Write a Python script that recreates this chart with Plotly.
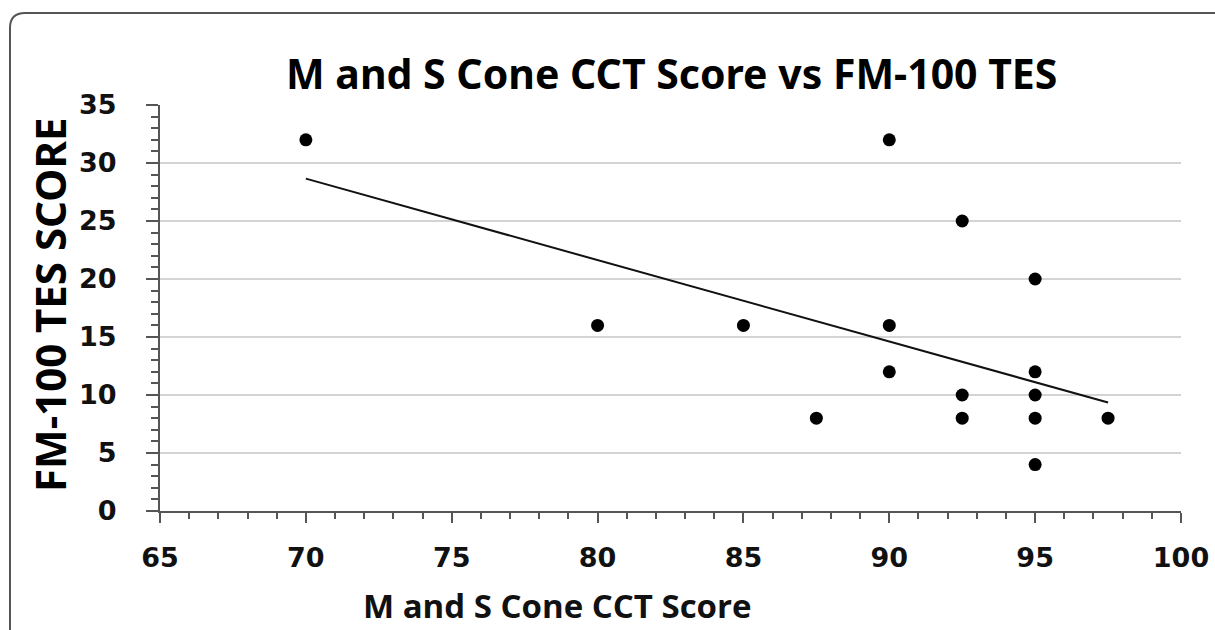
import plotly.graph_objects as go

# ---- data ----
cct_score = [70, 80, 85, 87.5, 90, 90, 90, 92.5, 92.5, 92.5, 95, 95, 95, 95, 95, 97.5]
tes_score = [32, 16, 16, 8, 32, 16, 12, 25, 10, 8, 20, 12, 10, 8, 4, 8]
trend_x = [70, 97.5]
trend_y = [28.65, 9.35]
x_ticks = [65, 70, 75, 80, 85, 90, 95, 100]
y_ticks = [0, 5, 10, 15, 20, 25, 30, 35]

W, H = 1215, 630
ML, MR, MT, MB = 160, 34, 105, 119
PW, PH = W - ML - MR, H - MT - MB


def px_x(p):
    return (p - ML) / PW


def px_y(p):
    return (H - MB - p) / PH


fig = go.Figure()
fig.add_trace(go.Scatter(x=trend_x, y=trend_y, mode="lines",
                         line=dict(color="#111111", width=2),
                         showlegend=False, hoverinfo="skip"))
fig.add_trace(go.Scatter(x=cct_score, y=tes_score, mode="markers",
                         marker=dict(color="#000000", size=13),
                         showlegend=False))

tick_font = dict(family="DejaVu Sans", size=27, color="#111111", weight="bold")

fig.update_xaxes(range=[65, 100], tickvals=x_ticks, ticktext=[str(v) for v in x_ticks],
                 showgrid=False, zeroline=False, showline=True, automargin=False,
                 linecolor="#555555", linewidth=2,
                 ticks="outside", ticklen=10, tickwidth=2, tickcolor="#555555",
                 minor=dict(dtick=1, ticks="outside", ticklen=6, tickwidth=1.5,
                            tickcolor="#555555", showgrid=False),
                 tickfont=tick_font, ticklabelstandoff=12, fixedrange=True)
fig.update_yaxes(range=[0, 35], tickvals=y_ticks, ticktext=[str(v) for v in y_ticks],
                 showgrid=True, gridcolor="#d4d4d4", gridwidth=1.5,
                 zeroline=False, showline=True, automargin=False,
                 linecolor="#555555", linewidth=2,
                 ticks="outside", ticklen=12, tickwidth=2, tickcolor="#555555",
                 minor=dict(dtick=1, ticks="outside", ticklen=7, tickwidth=1.5,
                            tickcolor="#555555", showgrid=False),
                 tickfont=tick_font, ticklabelstandoff=24, fixedrange=True)

# rounded border (clipped at right/bottom like the reference)
x0 = px_x(10)
y0 = px_y(13)
xr = px_x(1240)
yb = px_y(660)
rx = 15 / PW
ry = 15 / PH
path = (f"M {x0},{yb} L {x0},{y0 - ry} Q {x0},{y0} {x0 + rx},{y0} L {xr},{y0}")
fig.add_shape(type="path", path=path, xref="paper", yref="paper",
              line=dict(color="#555555", width=2))

fig.add_annotation(text="M and S Cone CCT Score vs FM-100 TES",
                   x=px_x(671), y=px_y(73), xref="paper", yref="paper",
                   xanchor="center", yanchor="middle", showarrow=False,
                   font=dict(family="Noto Sans", size=41, color="#000000", weight="bold"))
fig.add_annotation(text="M and S Cone CCT Score",
                   x=px_x(557), y=px_y(605), xref="paper", yref="paper",
                   xanchor="center", yanchor="middle", showarrow=False,
                   font=dict(family="Open Sans", size=33, color="#111111", weight="bold"))
fig.add_annotation(text="FM-100 TES SCORE",
                   x=px_x(49), y=px_y(305), xref="paper", yref="paper",
                   xanchor="center", yanchor="middle", showarrow=False, textangle=-90,
                   font=dict(family="Noto Sans", size=42, color="#000000", weight="bold"))

fig.update_layout(width=W, height=H, margin=dict(l=ML, r=MR, t=MT, b=MB, pad=0),
                  paper_bgcolor="white", plot_bgcolor="white", showlegend=False)

fig.write_html("out.html")
